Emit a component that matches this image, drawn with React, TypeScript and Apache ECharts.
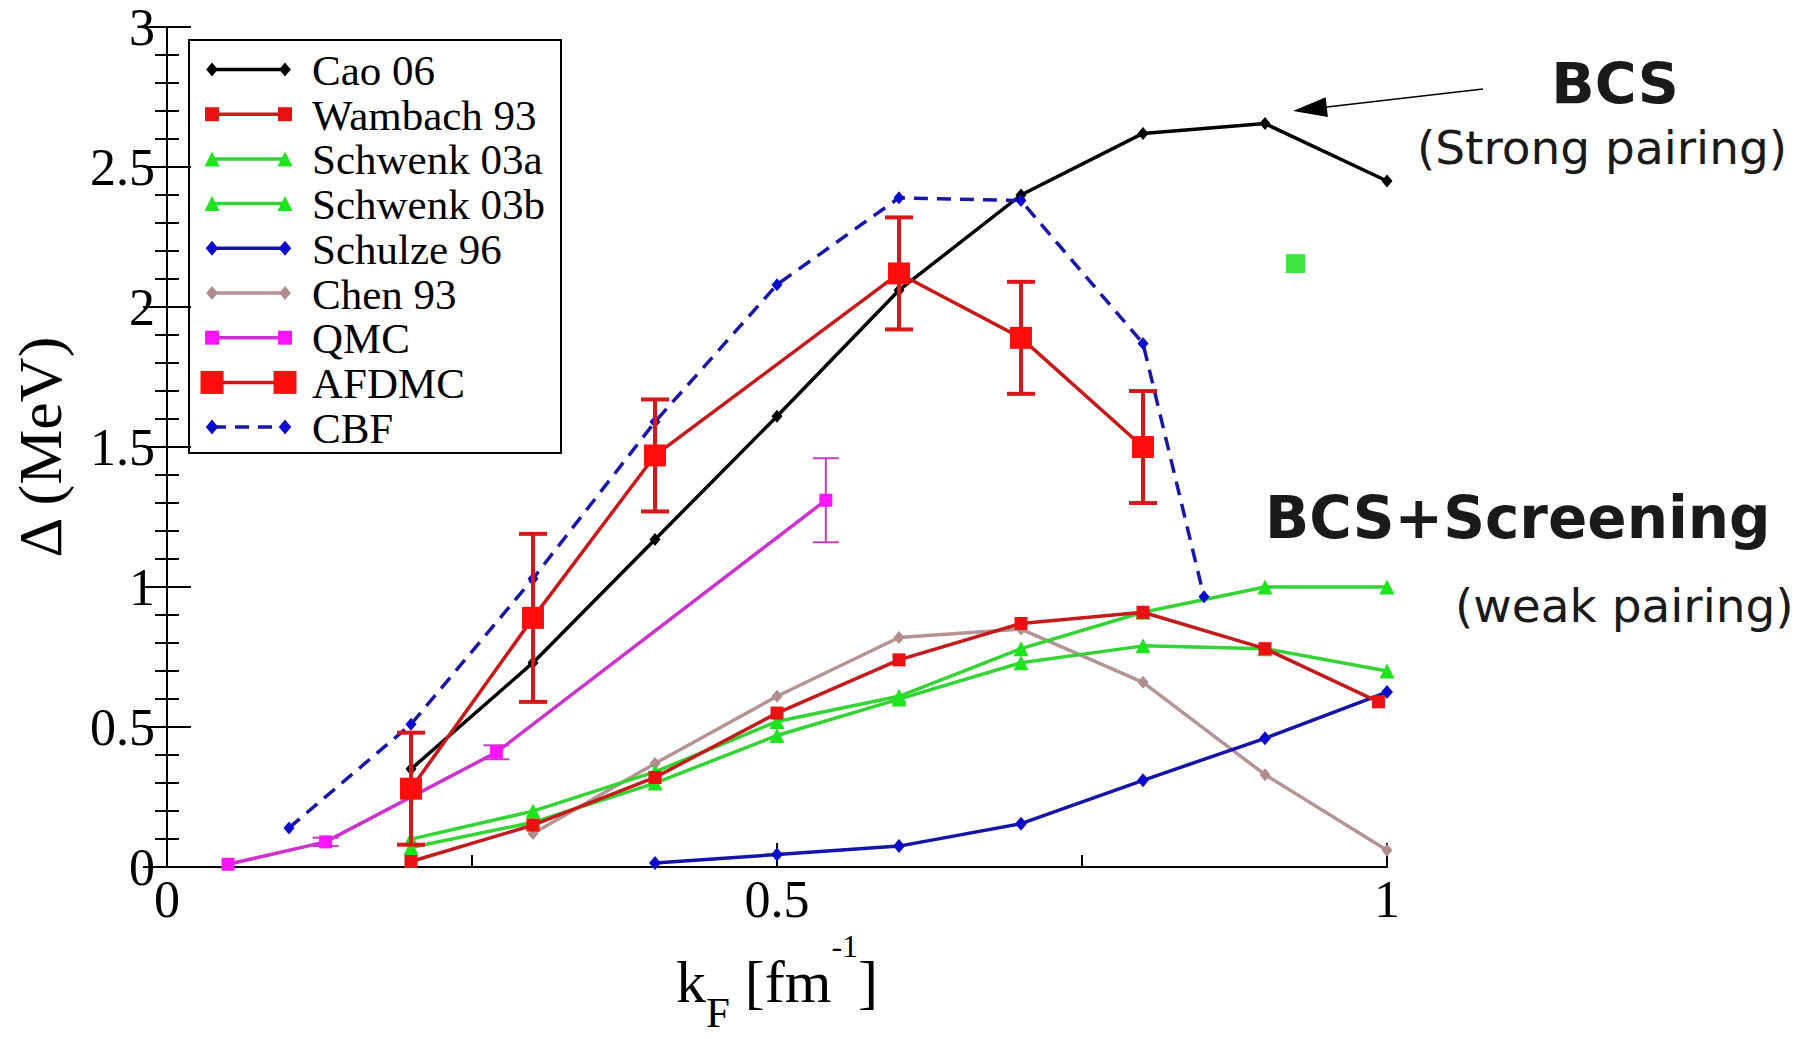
import React, { useEffect, useRef } from "react";
import * as echarts from "echarts";

// ---------- data ----------
const caoX = [0.2, 0.3, 0.4, 0.5, 0.6, 0.7, 0.8, 0.9, 1.0];
const caoY = [0.35, 0.73, 1.17, 1.61, 2.06, 2.4, 2.62, 2.655, 2.45];

const wambachX = [0.2, 0.3, 0.4, 0.5, 0.6, 0.7, 0.8, 0.9, 0.993];
const wambachY = [0.02, 0.15, 0.32, 0.55, 0.74, 0.87, 0.91, 0.78, 0.59];

const schwenkAX = [0.2, 0.3, 0.4, 0.5, 0.6, 0.7, 0.8, 0.9, 1.0];
const schwenkAY = [0.1, 0.2, 0.34, 0.52, 0.61, 0.78, 0.91, 1.0, 1.0];

const schwenkBX = [0.2, 0.3, 0.4, 0.5, 0.6, 0.7, 0.8, 0.9, 1.0];
const schwenkBY = [0.07, 0.16, 0.3, 0.47, 0.6, 0.73, 0.79, 0.78, 0.7];

const schulzeX = [0.4, 0.5, 0.6, 0.7, 0.8, 0.9, 1.0];
const schulzeY = [0.015, 0.045, 0.075, 0.155, 0.31, 0.46, 0.625];

const chenX = [0.3, 0.4, 0.5, 0.6, 0.7, 0.8, 0.9, 1.0];
const chenY = [0.12, 0.37, 0.61, 0.82, 0.85, 0.66, 0.33, 0.06];

const qmcX = [0.05, 0.13, 0.27, 0.54];
const qmcY = [0.01, 0.09, 0.41, 1.31];
const qmcErr = [0, 0.015, 0.025, 0.15];

const afdmcX = [0.2, 0.3, 0.4, 0.6, 0.7, 0.8];
const afdmcY = [0.28, 0.89, 1.47, 2.12, 1.89, 1.5];
const afdmcErr = [0.2, 0.3, 0.2, 0.2, 0.2, 0.2];

const cbfX = [0.1, 0.2, 0.3, 0.4, 0.5, 0.6, 0.7, 0.8, 0.85];
const cbfY = [0.14, 0.51, 1.03, 1.59, 2.08, 2.39, 2.38, 1.87, 0.965];

const extraX = [0.925];
const extraY = [2.155];

const yTicks = [0, 0.5, 1, 1.5, 2, 2.5, 3];
const xTicks = [0, 0.5, 1];

const legendNames = [
  "Cao 06",
  "Wambach 93",
  "Schwenk 03a",
  "Schwenk 03b",
  "Schulze 96",
  "Chen 93",
  "QMC",
  "AFDMC",
  "CBF",
];

// ---------- styles ----------
type Sty = {
  line: string;
  fill: string;
  symbol: "diamond" | "rect" | "triangle";
  size: number;
  legendSize: number;
  width: number;
  dashed?: boolean;
};
const styles: Sty[] = [
  { line: "#000000", fill: "#000000", symbol: "diamond", size: 13, legendSize: 14, width: 3.5 },
  { line: "#c41c1c", fill: "#e81212", symbol: "rect", size: 13, legendSize: 14, width: 3.5 },
  { line: "#33d433", fill: "#1ee41e", symbol: "triangle", size: 15, legendSize: 15, width: 3.5 },
  { line: "#33d433", fill: "#1ee41e", symbol: "triangle", size: 15, legendSize: 15, width: 3.5 },
  { line: "#1414a8", fill: "#0a0acc", symbol: "diamond", size: 14, legendSize: 15, width: 3.5 },
  { line: "#b49494", fill: "#b08c8c", symbol: "diamond", size: 13, legendSize: 14, width: 3.5 },
  { line: "#cc33cc", fill: "#ff14ff", symbol: "rect", size: 13, legendSize: 14, width: 3.5 },
  { line: "#c81818", fill: "#ff0e0e", symbol: "rect", size: 22, legendSize: 23, width: 3.5 },
  { line: "#1818a8", fill: "#0a0acc", symbol: "diamond", size: 13, legendSize: 15, width: 3.5, dashed: true },
];

const zip = (xs: number[], ys: number[]) => xs.map((x, i) => [x, ys[i]]);

function legendSymbol(s: Sty, cx: number, cy: number): any {
  const d = s.legendSize;
  if (s.symbol === "rect") {
    return { type: "rect", shape: { x: cx - d / 2, y: cy - d / 2, width: d, height: d }, style: { fill: s.fill } };
  }
  if (s.symbol === "triangle") {
    return {
      type: "polygon",
      shape: { points: [[cx, cy - d / 2], [cx + d / 2, cy + d / 2], [cx - d / 2, cy + d / 2]] },
      style: { fill: s.fill },
    };
  }
  return {
    type: "polygon",
    shape: { points: [[cx, cy - d / 2], [cx + d / 2.4, cy], [cx, cy + d / 2], [cx - d / 2.4, cy]] },
    style: { fill: s.fill },
  };
}

function errorSeries(xs: number[], ys: number[], es: number[], color: string, lw: number, cap: number, z: number) {
  return {
    type: "custom",
    z,
    silent: true,
    renderItem: (_p: any, api: any) => {
      const x = api.value(0);
      const y = api.value(1);
      const e = api.value(2);
      if (!e) return { type: "group", children: [] };
      const t = api.coord([x, y + e]);
      const b = api.coord([x, y - e]);
      const st = { stroke: color, lineWidth: lw };
      return {
        type: "group",
        children: [
          { type: "line", shape: { x1: t[0], y1: t[1], x2: b[0], y2: b[1] }, style: st },
          { type: "line", shape: { x1: t[0] - cap / 2, y1: t[1], x2: t[0] + cap / 2, y2: t[1] }, style: st },
          { type: "line", shape: { x1: b[0] - cap / 2, y1: b[1], x2: b[0] + cap / 2, y2: b[1] }, style: st },
        ],
      };
    },
    data: xs.map((x, i) => [x, ys[i], es[i]]),
  };
}

export default function App() {
  const ref = useRef<HTMLDivElement>(null);
  useEffect(() => {
    if (!ref.current) return;
    const chart = echarts.init(ref.current, undefined, { renderer: "svg" });

    const datasets = [
      zip(caoX, caoY),
      zip(wambachX, wambachY),
      zip(schwenkAX, schwenkAY),
      zip(schwenkBX, schwenkBY),
      zip(schulzeX, schulzeY),
      zip(chenX, chenY),
      zip(qmcX, qmcY),
      zip(afdmcX, afdmcY),
      zip(cbfX, cbfY),
    ];
    const zOrder = [5, 4, 3, 3, 3, 2, 4, 6, 5];

    const lineSeries = datasets.map((data, i) => {
      const s = styles[i];
      return {
        name: legendNames[i],
        type: "line",
        data,
        z: zOrder[i],
        symbol: s.symbol,
        symbolSize: s.symbol === "diamond" ? [s.size * 0.85, s.size] : s.size,
        showSymbol: true,
        clip: false,
        lineStyle: { color: s.line, width: s.width, type: s.dashed ? [14, 9] : "solid" },
        itemStyle: { color: s.fill },
        emphasis: { disabled: true },
      };
    });

    const legendTop = 69.5;
    const legendStep = 44.7;
    const legendEls: any[] = [
      {
        type: "rect",
        shape: { x: 189, y: 40, width: 372, height: 413 },
        style: { fill: "#ffffff", stroke: "#000000", lineWidth: 2 },
      },
    ];
    legendNames.forEach((name, i) => {
      const s = styles[i];
      const cy = legendTop + i * legendStep;
      legendEls.push({
        type: "line",
        shape: { x1: 212, y1: cy, x2: 285, y2: cy },
        style: { stroke: s.line, lineWidth: 3.5, lineDash: s.dashed ? [14, 9] : null },
      });
      legendEls.push(legendSymbol(s, 212, cy));
      legendEls.push(legendSymbol(s, 285, cy));
      legendEls.push({
        type: "text",
        x: 312,
        y: cy + 1,
        style: {
          text: name,
          fontFamily: "Liberation Serif",
          fontSize: 43,
          fill: "#000000",
          textVerticalAlign: "middle",
          textAlign: "left",
        },
      });
    });

    // arrow pointing to BCS curve
    const tip = [1293, 111];
    const tail = [1483, 89];
    const dx = tail[0] - tip[0];
    const dy = tail[1] - tip[1];
    const len = Math.sqrt(dx * dx + dy * dy);
    const ux = dx / len;
    const uy = dy / len;
    const hl = 34;
    const hw = 10;
    const bx = tip[0] + ux * hl;
    const by = tip[1] + uy * hl;

    const annotations: any[] = [
      {
        type: "line",
        shape: { x1: tail[0], y1: tail[1], x2: bx, y2: by },
        style: { stroke: "#000000", lineWidth: 1.5 },
      },
      {
        type: "polygon",
        shape: { points: [tip, [bx - uy * hw, by + ux * hw], [bx + uy * hw, by - ux * hw]] },
        style: { fill: "#000000" },
      },
      {
        type: "text",
        x: 1615,
        y: 84,
        style: {
          text: "BCS",
          fontFamily: "DejaVu Sans",
          fontWeight: "bold",
          fontSize: 57,
          fill: "#1a1a1a",
          textAlign: "center",
          textVerticalAlign: "middle",
        },
      },
      {
        type: "text",
        x: 1602,
        y: 147,
        style: {
          text: "(Strong pairing)",
          fontFamily: "DejaVu Sans",
          fontSize: 47,
          fill: "#1a1a1a",
          textAlign: "center",
          textVerticalAlign: "middle",
        },
      },
      {
        type: "text",
        x: 1265,
        y: 518,
        style: {
          text: "BCS+Screening",
          fontFamily: "DejaVu Sans",
          fontWeight: "bold",
          fontSize: 58,
          fill: "#1a1a1a",
          textAlign: "left",
          textVerticalAlign: "middle",
        },
      },
      {
        type: "text",
        x: 1455,
        y: 605,
        style: {
          text: "(weak pairing)",
          fontFamily: "DejaVu Sans",
          fontSize: 47,
          fill: "#1a1a1a",
          textAlign: "left",
          textVerticalAlign: "middle",
        },
      },
    ];

    const axisLine = { show: true, lineStyle: { color: "#000", width: 2 } };
    const tickLabelStyle = { fontFamily: "Liberation Serif", fontSize: 52, color: "#000" };

    chart.setOption({
      animation: false,
      backgroundColor: "#ffffff",
      grid: { left: 167, right: 419, top: 27, bottom: 158, containLabel: false },
      xAxis: [
        {
          type: "value",
          min: xTicks[0],
          max: xTicks[xTicks.length - 1],
          interval: 0.5,
          position: "bottom",
          axisLine,
          axisTick: { show: true, inside: true, length: 24, lineStyle: { color: "#000", width: 2 } },
          minorTick: { show: true, splitNumber: 2, length: 12, lineStyle: { color: "#000", width: 2 } },
          splitLine: { show: false },
          minorSplitLine: { show: false },
          axisLabel: { ...tickLabelStyle, margin: 6, formatter: (v: number) => String(v) },
          name: "{a|k}{sub|F}{a| [fm}{sup|-1}{a|]}",
          nameLocation: "middle",
          nameGap: 62,
          nameTextStyle: {
            fontFamily: "Liberation Serif",
            fontSize: 60,
            color: "#000",
            rich: {
              a: { fontFamily: "Liberation Serif", fontSize: 60, color: "#000", lineHeight: 104, verticalAlign: "middle" },
              sub: { fontFamily: "Liberation Serif", fontSize: 43, color: "#000", lineHeight: 47, verticalAlign: "bottom" },
              sup: { fontFamily: "Liberation Serif", fontSize: 32, color: "#000", lineHeight: 58, verticalAlign: "top" },
            },
          },
        },
        {
          type: "value",
          min: 0,
          max: 1,
          position: "top",
          axisLine,
          axisTick: { show: false },
          minorTick: { show: false },
          splitLine: { show: false },
          axisLabel: { show: false },
        },
      ],
      yAxis: [
        {
          type: "value",
          min: yTicks[0],
          max: yTicks[yTicks.length - 1],
          interval: 0.5,
          position: "left",
          axisLine,
          axisTick: { show: true, inside: true, length: 24, lineStyle: { color: "#000", width: 2 } },
          minorTick: { show: true, splitNumber: 5, length: 12, lineStyle: { color: "#000", width: 2 } },
          splitLine: { show: false },
          minorSplitLine: { show: false },
          axisLabel: { ...tickLabelStyle, margin: 12, formatter: (v: number) => String(v) },
          name: "Δ (MeV)",
          nameLocation: "middle",
          nameGap: 96,
          nameRotate: 90,
          nameTextStyle: { fontFamily: "Liberation Serif", fontSize: 62, color: "#000" },
        },
        {
          type: "value",
          min: 0,
          max: 3,
          interval: 0.5,
          position: "right",
          axisLine,
          axisTick: { show: true, inside: true, length: 24, lineStyle: { color: "#000", width: 2 } },
          minorTick: { show: true, splitNumber: 5, length: 12, lineStyle: { color: "#000", width: 2 } },
          splitLine: { show: false },
          axisLabel: { show: false },
        },
      ],
      series: [
        errorSeries(afdmcX, afdmcY, afdmcErr, "#d81818", 4, 28, 6),
        errorSeries(qmcX, qmcY, qmcErr, "#c040c0", 2, 26, 4),
        ...lineSeries,
        {
          name: "extra",
          type: "scatter",
          data: zip(extraX, extraY),
          symbol: "rect",
          symbolSize: 19,
          z: 5,
          itemStyle: { color: "#10e010" },
          emphasis: { disabled: true },
        },
      ],
      graphic: [
        { type: "group", z: 100, children: legendEls },
        { type: "group", z: 100, children: annotations },
      ],
    });

    return () => chart.dispose();
  }, []);

  return (
    <div
      ref={ref}
      style={{ position: "absolute", left: 0, top: 0, width: 1806, height: 1039, background: "#fff" }}
    />
  );
}
